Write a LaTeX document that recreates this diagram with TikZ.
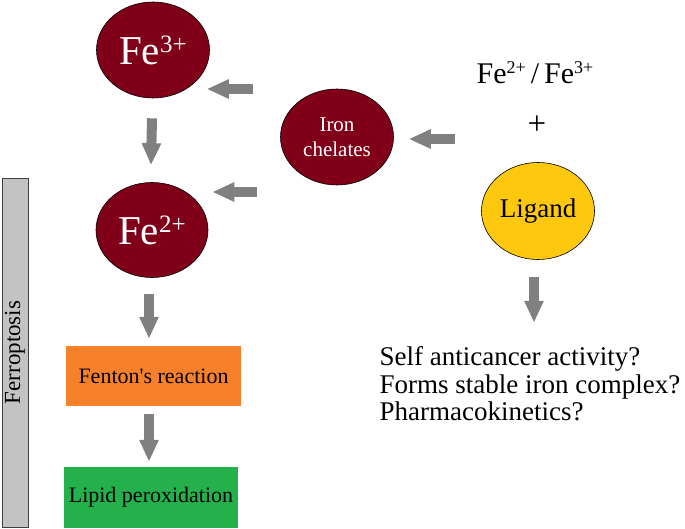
\documentclass[tikz,border=0pt]{standalone}
\usepackage{fontspec}
\setmainfont{Liberation Serif}
\usetikzlibrary{arrows.meta,shapes.geometric}
\definecolor{ironred}{HTML}{7F0018}
\definecolor{ligyellow}{HTML}{FEC80F}
\definecolor{fentonorange}{HTML}{F7812A}
\definecolor{lipidgreen}{HTML}{24B04B}
\definecolor{arrowgray}{HTML}{808080}
\definecolor{bargray}{HTML}{C3C3C3}
\tikzset{
  ion/.style={ellipse, draw=black, line width=0.6pt, fill=ironred, text=white, minimum width=113pt, minimum height=96pt, inner sep=0pt},
  ligandnode/.style={ellipse, draw=black, line width=0.6pt, fill=ligyellow, text=black, minimum width=113pt, minimum height=97pt, inner sep=0pt, font=\fontsize{27}{30}\selectfont},
  stepbox/.style={rectangle, minimum width=175pt, minimum height=60pt, inner sep=0pt, font=\fontsize{22}{24}\selectfont},
  blk/.style={draw=arrowgray, line width=10pt, -{Triangle[width=18pt,length=22pt]}, arrowgray},
}
\begin{document}
\begin{tikzpicture}[x=1pt,y=-1pt]
\useasboundingbox (0,0) rectangle (685,529);
% nodes
\node[ion, font=\fontsize{41}{44}\selectfont] (fe3) at (153,50) {Fe\raisebox{12pt}{\fontsize{25}{25}\selectfont 3+}};
\node[ion, font=\fontsize{41}{44}\selectfont, minimum width=112pt, minimum height=95pt] (fe2) at (152,230) {Fe\raisebox{12pt}{\fontsize{25}{25}\selectfont 2+}};
\node[ion, align=center, font=\fontsize{21}{25}\selectfont] (chel) at (337,137) {Iron\\chelates};
\node[ligandnode] (lig) at (538,211) {Ligand};
\node[font=\fontsize{30}{34}\selectfont] (pair) at (535,73) {Fe\raisebox{10pt}{\fontsize{18}{18}\selectfont 2+}\,/\,Fe\raisebox{10pt}{\fontsize{18}{18}\selectfont 3+}};
\node[font=\fontsize{33}{36}\selectfont] (plus) at (537,125) {+};
\node[stepbox, fill=fentonorange] (fen) at (153.5,376) {Fenton\textquotesingle s reaction};
\node[stepbox, fill=lipidgreen, minimum width=174pt, minimum height=61pt] (lip) at (151,497.5) {Lipid peroxidation};
\node[draw=black!75, line width=0.8pt, fill=bargray, minimum width=26pt, minimum height=349pt, inner sep=0pt] (bar) at (15,352.5) {};
\node[rotate=90, font=\fontsize{23}{25}\selectfont] (ferro) at (bar.center) {Ferroptosis};
\node[anchor=west, align=left, font=\fontsize{27}{27.5}\selectfont] (qs) at (376,384) {Self anticancer activity?\\Forms stable iron complex?\\Pharmacokinetics?};
% arrow tails
\coordinate (t1) at (253,89);
\coordinate (t3) at (455,139);
\coordinate (t4) at (257,192);
% arrows
\draw[blk] (t1) -- ([xshift=-3pt]fe3.east |- t1);
\draw[blk] ([xshift=-1pt]fe3.south) ++(0,20) -- ([xshift=-1pt,yshift=17pt]fe2.north);
\draw[blk] (t3) -- ([xshift=15pt]chel.east |- t3);
\draw[blk] (t4) -- ([xshift=4pt]fe2.east |- t4);
\draw[blk] ([xshift=-3pt,yshift=-16pt]fe2.south) -- ([xshift=-4.5pt,yshift=7pt]fen.north);
\draw[blk] ([xshift=-4.5pt,yshift=-8pt]fen.south) -- ([xshift=-2pt,yshift=5pt]lip.north);
\draw[blk] ([xshift=-4pt,yshift=-17pt]lig.south) -- ++(0,46);
\end{tikzpicture}
\end{document}
